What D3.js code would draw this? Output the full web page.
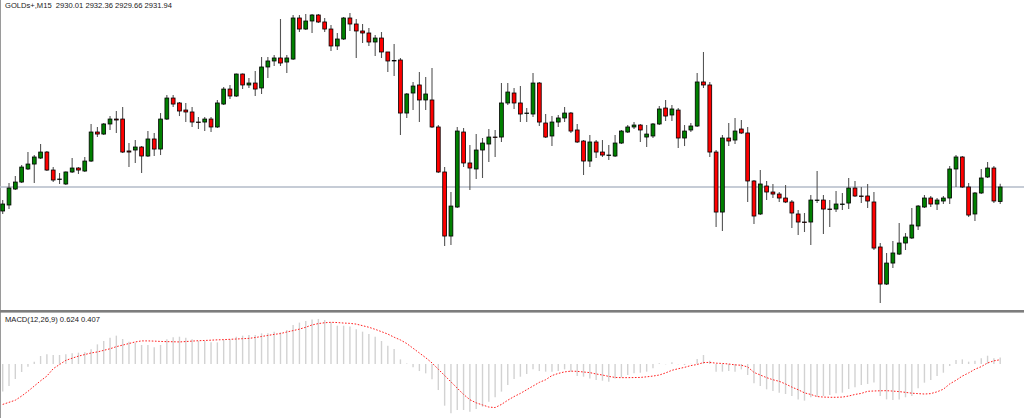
<!DOCTYPE html>
<html><head><meta charset="utf-8">
<script src="https://cdn.jsdelivr.net/npm/d3@7/dist/d3.min.js"></script>
<style>html,body{margin:0;padding:0;background:#fff;overflow:hidden}</style>
</head><body>
<svg id="c" width="1024" height="418"></svg>
<script>
const symbol = "GOLDs+,M15";
const indicatorName = "MACD(12,26,9)";

const open = [
2928.74,2929.54,2931.67,2932.60,2934.34,2935.00,2935.80,2936.60,2934.20,2932.94,
2932.34,2933.94,2934.47,2934.07,2935.40,2939.27,2939.00,2940.34,2941.00,2941.00,
2936.74,2936.87,2937.27,2936.07,2938.34,2937.00,2941.00,2943.80,2943.14,2942.20,
2941.94,2940.60,2940.60,2941.00,2939.94,2943.00,2945.00,2944.07,2947.00,2945.54,
2945.80,2945.14,2947.94,2948.74,2949.14,2948.60,2949.00,2954.47,2953.00,2954.07,
2954.87,2953.94,2953.00,2950.74,2951.67,2954.47,2953.67,2952.74,2952.47,2951.27,
2951.80,2949.94,2948.80,2948.87,2941.80,2944.47,2945.54,2943.54,2943.54,2939.94,
2933.94,2925.40,2929.27,2939.27,2935.14,2934.34,2936.87,2937.67,2938.60,2938.60,
2943.14,2944.47,2943.14,2941.74,2941.67,2945.80,2940.47,2938.74,2940.60,2941.14,
2941.80,2939.54,2938.07,2935.40,2937.94,2936.60,2936.14,2936.07,2937.80,2939.27,
2939.94,2940.20,2938.60,2938.74,2940.34,2942.47,2941.54,2942.20,2938.47,2939.54,
2940.07,2945.94,2945.54,2936.60,2928.60,2938.47,2938.20,2939.67,2939.14,2932.74,
2928.34,2932.07,2931.27,2931.00,2930.47,2929.94,2928.34,2927.27,2927.27,2930.14,
2930.20,2929.00,2929.00,2929.60,2929.80,2931.80,2930.74,2930.74,2929.94,2923.94,
2919.00,2921.80,2923.00,2924.47,2925.14,2926.74,2929.27,2930.47,2929.67,2930.07,
2930.47,2934.34,2935.94,2931.94,2928.34,2931.14,2933.27,2934.47,2930.01];

const high = [
2930.20,2932.47,2933.40,2934.87,2936.60,2936.20,2937.67,2936.74,2934.60,2933.80,
2934.00,2935.80,2934.60,2935.94,2940.34,2939.94,2940.47,2941.40,2942.07,2942.60,
2937.80,2938.20,2937.40,2939.40,2939.14,2941.80,2944.20,2944.20,2943.27,2943.14,
2942.60,2941.27,2941.27,2941.27,2943.54,2945.27,2945.54,2947.07,2947.07,2946.47,
2947.40,2949.27,2949.27,2949.54,2954.34,2949.54,2954.87,2954.87,2955.00,2955.00,
2955.00,2954.47,2953.54,2952.47,2954.60,2955.14,2954.34,2953.67,2953.14,2952.20,
2952.60,2949.94,2951.00,2949.14,2944.47,2945.94,2947.27,2946.60,2947.80,2940.20,
2934.60,2931.27,2939.94,2939.80,2937.54,2939.00,2938.47,2939.67,2939.54,2945.80,
2945.80,2945.14,2945.40,2942.47,2947.14,2945.94,2941.67,2941.40,2941.54,2942.60,
2941.94,2940.34,2938.20,2938.87,2938.20,2938.20,2937.54,2938.87,2939.54,2940.20,
2940.60,2940.34,2940.20,2940.47,2942.74,2943.54,2942.87,2942.47,2940.20,2940.47,
2947.14,2949.94,2945.94,2936.87,2938.87,2940.47,2941.14,2940.87,2939.94,2932.87,
2934.20,2932.74,2932.34,2931.27,2932.20,2930.20,2928.87,2928.47,2930.87,2934.07,
2930.87,2930.20,2931.40,2931.14,2933.14,2932.74,2931.94,2932.34,2931.27,2924.47,
2923.14,2924.74,2927.14,2925.80,2929.14,2929.54,2930.87,2930.74,2930.47,2930.74,
2934.74,2936.20,2936.07,2932.47,2931.27,2934.34,2935.27,2934.74,2932.36];

const low = [
2928.34,2929.00,2931.54,2932.47,2934.20,2932.47,2935.67,2934.07,2932.60,2932.34,
2932.20,2933.80,2933.67,2933.94,2935.27,2938.60,2938.87,2939.54,2939.14,2936.47,
2934.60,2935.14,2933.80,2935.94,2936.07,2936.20,2940.87,2942.60,2941.40,2940.60,
2939.94,2939.67,2939.40,2939.27,2939.80,2942.87,2943.67,2943.94,2945.00,2945.14,
2944.07,2944.34,2946.47,2948.07,2948.07,2947.14,2948.87,2952.60,2952.87,2952.47,
2953.80,2952.60,2950.07,2950.20,2951.54,2952.74,2949.14,2951.14,2950.74,2949.40,
2949.14,2947.27,2946.74,2938.87,2941.14,2942.20,2940.60,2942.20,2939.80,2933.80,
2924.07,2924.20,2929.14,2934.60,2931.54,2933.00,2933.14,2935.27,2935.94,2937.94,
2942.87,2942.34,2940.60,2940.60,2941.27,2940.07,2938.47,2937.40,2939.94,2940.60,
2939.14,2937.80,2933.54,2934.60,2935.80,2935.94,2935.54,2935.94,2937.67,2939.14,
2939.67,2937.94,2937.27,2938.47,2940.20,2940.74,2940.74,2937.14,2937.40,2939.27,
2939.94,2945.14,2935.94,2926.60,2926.07,2937.40,2937.67,2939.00,2929.94,2927.00,
2928.20,2930.20,2930.47,2929.94,2929.80,2926.47,2925.54,2925.94,2924.20,2929.80,
2925.67,2926.60,2928.60,2928.87,2929.00,2930.60,2929.80,2929.14,2923.54,2916.47,
2918.87,2921.14,2922.87,2923.54,2925.00,2926.20,2929.14,2929.27,2928.87,2929.67,
2929.67,2931.94,2931.80,2927.94,2927.40,2931.00,2933.14,2929.80,2929.66];

const close = [
2929.67,2931.80,2932.60,2934.60,2935.00,2935.94,2936.60,2934.20,2932.87,2933.00,
2933.94,2934.47,2934.20,2935.40,2939.27,2939.00,2940.34,2941.00,2940.87,2936.60,
2936.60,2937.27,2936.07,2938.34,2937.00,2941.00,2943.80,2943.00,2942.07,2941.94,
2940.60,2940.54,2941.00,2939.94,2943.14,2945.00,2944.07,2947.00,2945.54,2945.80,
2945.00,2947.94,2948.74,2949.14,2948.47,2949.14,2954.47,2953.00,2954.07,2954.87,
2953.94,2953.00,2950.74,2951.67,2954.47,2953.67,2952.74,2952.47,2951.27,2951.80,
2949.94,2948.74,2948.74,2941.80,2944.34,2945.40,2943.54,2944.34,2939.94,2933.94,
2925.40,2929.40,2939.40,2935.14,2934.47,2936.87,2937.80,2938.60,2938.54,2943.14,
2944.60,2943.14,2941.67,2941.80,2945.80,2940.60,2938.60,2940.60,2941.14,2941.80,
2939.40,2937.94,2935.40,2937.94,2936.60,2936.20,2936.20,2937.80,2939.40,2939.94,
2940.20,2939.54,2939.00,2940.34,2942.34,2941.40,2942.34,2938.47,2939.40,2940.07,
2945.94,2945.54,2936.60,2928.60,2938.47,2938.07,2939.40,2939.14,2932.74,2928.07,
2932.34,2931.27,2931.00,2930.47,2929.94,2928.47,2927.27,2927.20,2930.20,2930.20,
2929.00,2928.94,2929.67,2929.67,2931.80,2930.74,2930.67,2930.07,2923.80,2919.00,
2921.80,2923.14,2924.47,2925.27,2926.87,2929.40,2930.47,2929.67,2930.20,2930.47,
2934.34,2935.94,2931.94,2928.20,2931.14,2933.14,2934.47,2930.07,2931.94];

const macd = [
-2.63,-2.10,-1.43,-0.76,-0.25,0.22,0.76,0.92,0.86,0.86,
0.92,1.02,1.08,1.11,1.40,1.87,2.19,2.51,2.70,2.38,
2.13,2.03,1.81,1.81,1.59,1.81,2.35,2.54,2.60,2.51,
2.35,2.19,2.19,2.06,2.06,2.29,2.35,2.60,2.70,2.76,
2.76,2.92,2.92,3.08,3.02,3.24,3.71,3.94,4.10,4.25,
4.29,4.19,3.97,3.65,3.65,3.56,3.30,3.08,2.86,2.60,
2.19,1.75,1.43,0.44,0.05,-0.32,-0.67,-0.89,-1.46,-2.48,
-3.97,-4.70,-4.38,-4.38,-4.54,-4.29,-4.06,-3.59,-3.17,-2.63,
-2.00,-1.43,-1.21,-0.95,-0.51,-0.67,-0.73,-0.73,-0.67,-0.51,
-0.73,-1.14,-1.21,-1.37,-1.52,-1.59,-1.68,-1.37,-1.27,-1.05,
-0.89,-0.83,-0.73,-0.41,0.06,-0.03,0.16,-0.03,-0.10,0.02,
0.48,0.86,0.32,-0.73,-0.73,-0.67,-0.73,-0.51,-1.05,-1.84,
-2.10,-2.41,-2.57,-2.73,-2.86,-3.05,-3.37,-3.49,-3.17,-3.11,
-3.05,-2.95,-2.79,-2.73,-2.38,-2.22,-2.00,-1.90,-1.75,-3.05,
-3.37,-3.43,-3.37,-3.17,-3.05,-2.32,-1.78,-1.52,-1.14,-0.83,
-0.19,0.38,0.44,0.22,0.32,0.54,0.79,0.54,0.624];

const signal = [
-3.85,-3.65,-3.45,-3.05,-2.60,-2.10,-1.60,-1.15,-0.45,-0.05,
0.35,0.55,0.75,0.90,1.05,1.15,1.30,1.45,1.65,1.80,
1.95,2.10,2.20,2.20,2.18,2.15,2.13,2.12,2.10,2.14,
2.18,2.22,2.24,2.27,2.30,2.32,2.35,2.38,2.41,2.44,
2.52,2.62,2.72,2.82,2.90,3.05,3.18,3.32,3.50,3.72,
3.85,3.93,3.97,3.95,3.90,3.87,3.80,3.65,3.50,3.30,
3.08,2.85,2.55,2.29,1.95,1.50,1.05,0.60,0.10,-0.50,
-1.10,-1.70,-2.30,-2.90,-3.40,-3.70,-3.90,-4.10,-4.15,-3.85,
-3.45,-3.10,-2.80,-2.45,-2.10,-1.75,-1.50,-1.10,-0.90,-0.75,
-0.68,-0.70,-0.76,-0.82,-0.95,-1.05,-1.18,-1.28,-1.30,-1.30,
-1.29,-1.28,-1.22,-1.15,-1.05,-0.85,-0.60,-0.45,-0.32,-0.15,
-0.05,0.14,0.15,0.08,0.05,0.00,-0.08,-0.12,-0.28,-0.80,
-1.05,-1.30,-1.50,-1.65,-1.90,-2.20,-2.45,-2.75,-2.90,-3.10,
-3.15,-3.17,-3.17,-3.15,-3.05,-2.90,-2.80,-2.60,-2.57,-2.55,
-2.54,-2.58,-2.63,-2.70,-2.78,-2.82,-2.86,-2.82,-2.65,-2.40,
-1.90,-1.55,-1.15,-0.85,-0.50,-0.25,0.10,0.30,0.407];

const n = open.length;
const last = n - 1;
const svg = d3.select("#c");

const x = d3.scaleLinear().domain([0, last]).range([2.7, 1000.2]);
const y = d3.scaleLinear().domain([2915.54, 2956.87]).range([310, 0]);
const ym = d3.scaleLinear().domain([-5, 5]).range([416.5, 311.5]);

const idx = d3.range(n);

// frame
svg.append("rect").attr("x",0).attr("y",0).attr("width",1024).attr("height",418).attr("fill","#fff");
svg.append("line").attr("x1",0.5).attr("x2",0.5).attr("y1",0).attr("y2",418).attr("stroke","#9a9a9a").attr("stroke-width",1);

// bid line
svg.append("line").attr("x1",0).attr("x2",1024)
  .attr("y1",y(close[last])).attr("y2",y(close[last]))
  .attr("stroke","#b3bbc9").attr("stroke-width",1.4);

// candles
const g = svg.append("g");
g.selectAll("line.w").data(idx).join("line").attr("class","w")
  .attr("x1",i=>x(i)).attr("x2",i=>x(i))
  .attr("y1",i=>y(high[i])).attr("y2",i=>y(low[i]))
  .attr("stroke","#555").attr("stroke-width",1.1);
g.selectAll("rect.b").data(idx).join("rect").attr("class","b")
  .attr("x",i=>x(i)-1.9).attr("width",3.8)
  .attr("y",i=>Math.min(y(open[i]),y(close[i])))
  .attr("height",i=>Math.max(0.3,Math.abs(y(open[i])-y(close[i]))))
  .attr("fill",i=>close[i]>=open[i]?"#008000":"#ff0000")
  .attr("stroke","#000").attr("stroke-width",0.8);

// separator
svg.append("rect").attr("x",0).attr("y",310).attr("width",1024).attr("height",2.6).attr("fill","#7d7d7d");

// MACD histogram
svg.append("g").selectAll("line").data(idx).join("line")
  .attr("x1",i=>x(i)).attr("x2",i=>x(i))
  .attr("y1",ym(0)).attr("y2",i=>ym(macd[i]))
  .attr("stroke","#d2d2d2").attr("stroke-width",1.4);

// signal
svg.append("path").datum(idx)
  .attr("d",d3.line().x(i=>x(i)).y(i=>ym(signal[i])))
  .attr("fill","none").attr("stroke","#ff2020").attr("stroke-width",1)
  .attr("stroke-dasharray","1.6,1.6");

// texts
const f2 = v => v.toFixed(2);
svg.append("text").attr("x",5).attr("y",7.5)
  .attr("font-family","Liberation Sans, Arial, sans-serif").attr("font-size",7.6).attr("fill","#1a1a1a")
  .attr("xml:space","preserve")
  .text(`${symbol}  ${f2(open[last])} ${f2(high[last])} ${f2(low[last])} ${f2(close[last])}`);
svg.append("text").attr("x",5).attr("y",321.5)
  .attr("font-family","Liberation Sans, Arial, sans-serif").attr("font-size",7.6).attr("fill","#1a1a1a")
  .text(`${indicatorName} ${macd[last].toFixed(3)} ${signal[last].toFixed(3)}`);
</script>
</body></html>
